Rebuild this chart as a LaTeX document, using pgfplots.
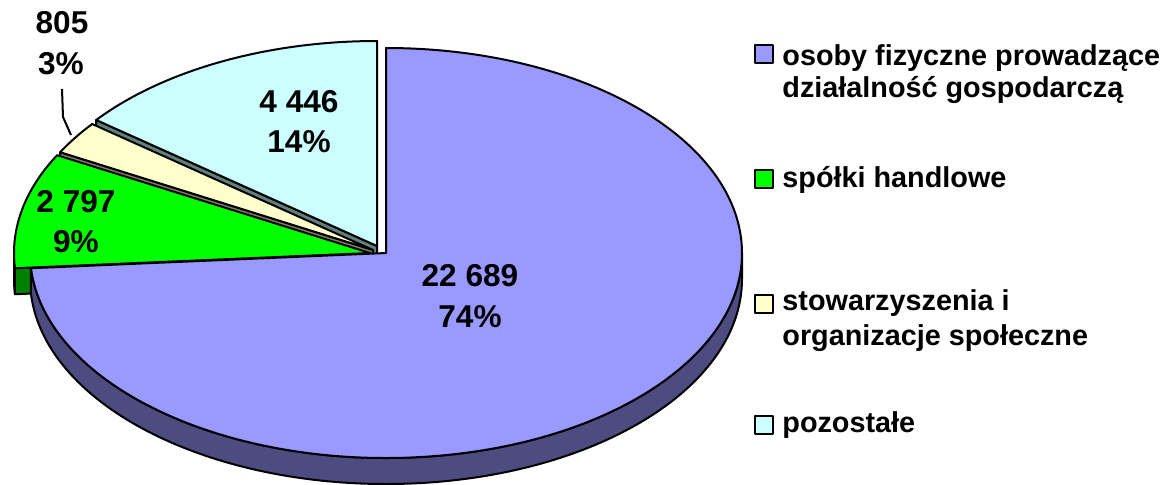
\documentclass[border=0pt]{standalone}
\usepackage{pgfplots}
\pgfplotsset{compat=1.18}
\usepackage{pgfplotstable}
\usepackage{fontspec}
\setmainfont{Liberation Sans}
\definecolor{ptop}{HTML}{9999FF}\definecolor{pside}{HTML}{4C4C80}
\definecolor{gtop}{HTML}{00FF00}\definecolor{gside}{HTML}{008000}
\definecolor{ctop}{HTML}{FFFFCC}\definecolor{cside}{HTML}{808066}
\definecolor{ttop}{HTML}{CCFFFF}\definecolor{tside}{HTML}{608080}

\pgfplotstableread{
slice value
0 22689
1 2797
2 805
3 4446
}\piedata
\pgfplotstablegetelem{0}{value}\of\piedata\let\va\pgfplotsretval
\pgfplotstablegetelem{1}{value}\of\piedata\let\vb\pgfplotsretval
\pgfplotstablegetelem{2}{value}\of\piedata\let\vc\pgfplotsretval
\pgfplotstablegetelem{3}{value}\of\piedata\let\vd\pgfplotsretval
\edef\tot{\fpeval{\va+\vb+\vc+\vd}}
% slices go clockwise from 12 o'clock
\edef\aA{\fpeval{round(90-360*\va/\tot,3)}}
\edef\aB{\fpeval{round(\aA-360*\vb/\tot,3)}}
\edef\aC{\fpeval{round(\aB-360*\vc/\tot,3)}}
\def\rx{178pt}\def\ry{102.5pt}\def\dep{13pt}

\begin{document}
\begin{tikzpicture}[every node/.style={inner sep=0pt},
  lab/.style={font=\fontsize{15.8}{18}\selectfont\bfseries, anchor=base},
  leg/.style={font=\fontsize{14.4}{17}\selectfont\bfseries, anchor=base west}]
\begin{axis}[x=0.5pt, y=0.5pt, xmin=0, xmax=1169, ymin=0, ymax=484,
  y dir=reverse, hide axis, clip=false]
\coordinate (bl) at (axis cs:0,484);
\coordinate (tr) at (axis cs:1169,0);
\begin{scope}[line width=1pt, line join=round]
% pozostale (back)
\filldraw[fill=tside] (axis cs:377,246) -- ++(0,-\dep) -- ++(\aC:{\rx} and {\ry}) -- ++(0,\dep) -- cycle;
\filldraw[fill=ttop] (axis cs:377,246) -- ++(-270:{\rx} and {\ry})
  arc[start angle=-270, end angle=\aC, x radius=\rx, y radius=\ry] -- cycle;
% stowarzyszenia
\filldraw[fill=cside] (axis cs:373,250) -- ++(0,-\dep) -- ++(\aB:{\rx} and {\ry}) -- ++(0,\dep) -- cycle;
\filldraw[fill=ctop] (axis cs:373,250) -- ++(\aC:{\rx} and {\ry})
  arc[start angle=\aC, end angle=\aB, x radius=\rx, y radius=\ry] -- cycle;
% spolki
\filldraw[fill=gside] (axis cs:370,253) -- ++(0,-\dep) -- ++(\aA:{\rx} and {\ry}) -- ++(0,\dep) -- cycle;
\filldraw[fill=gside] (axis cs:370,253) ++(-180:{\rx} and {\ry})
  arc[start angle=-180, end angle=\aA, x radius=\rx, y radius=\ry] -- ++(0,-\dep)
  arc[start angle=\aA, end angle=-180, x radius=\rx, y radius=\ry] -- cycle;
\filldraw[fill=gtop] (axis cs:370,253) -- ++(\aB:{\rx} and {\ry})
  arc[start angle=\aB, end angle=\aA, x radius=\rx, y radius=\ry] -- cycle;
% osoby fizyczne (front)
\filldraw[fill=pside] (axis cs:386,253) ++(\aA:{\rx} and {\ry})
  arc[start angle=\aA, end angle=0, x radius=\rx, y radius=\ry] -- ++(0,-\dep)
  arc[start angle=0, end angle=\aA, x radius=\rx, y radius=\ry] -- cycle;
\filldraw[fill=ptop] (axis cs:386,253) -- ++(\aA:{\rx} and {\ry})
  arc[start angle=\aA, end angle=90, x radius=\rx, y radius=\ry] -- cycle;
% leader line
\draw (axis cs:62,89) -- (axis cs:63,117) -- (axis cs:71,135);
% legend keys
\filldraw[fill=ptop] (axis cs:755,45) rectangle (axis cs:773,63);
\filldraw[fill=gtop] (axis cs:755,170) rectangle (axis cs:773,188);
\filldraw[fill=ctop] (axis cs:755,295) rectangle (axis cs:773,313);
\filldraw[fill=ttop] (axis cs:755,416) rectangle (axis cs:773,434);
\end{scope}
% data labels
\node[lab] at (axis cs:470,286) {22 689};
\node[lab] at (axis cs:470,327) {74\%};
\node[lab] at (axis cs:299,112) {4 446};
\node[lab] at (axis cs:299,152) {14\%};
\node[lab] at (axis cs:76,212) {2 797};
\node[lab] at (axis cs:76,252) {9\%};
\node[lab] at (axis cs:62,33) {805};
\node[lab] at (axis cs:61,74) {3\%};
% legend texts
\node[leg] at (axis cs:782,65) {osoby fizyczne prowadzące};
\node[leg] at (axis cs:782,97) {działalność gospodarczą};
\node[leg] at (axis cs:782,187) {spółki handlowe};
\node[leg] at (axis cs:782,310) {stowarzyszenia i};
\node[leg] at (axis cs:782,345) {organizacje społeczne};
\node[leg] at (axis cs:782,432) {pozostałe};
\end{axis}
\pgfresetboundingbox
\useasboundingbox (bl) rectangle (tr);
\end{tikzpicture}
\end{document}
